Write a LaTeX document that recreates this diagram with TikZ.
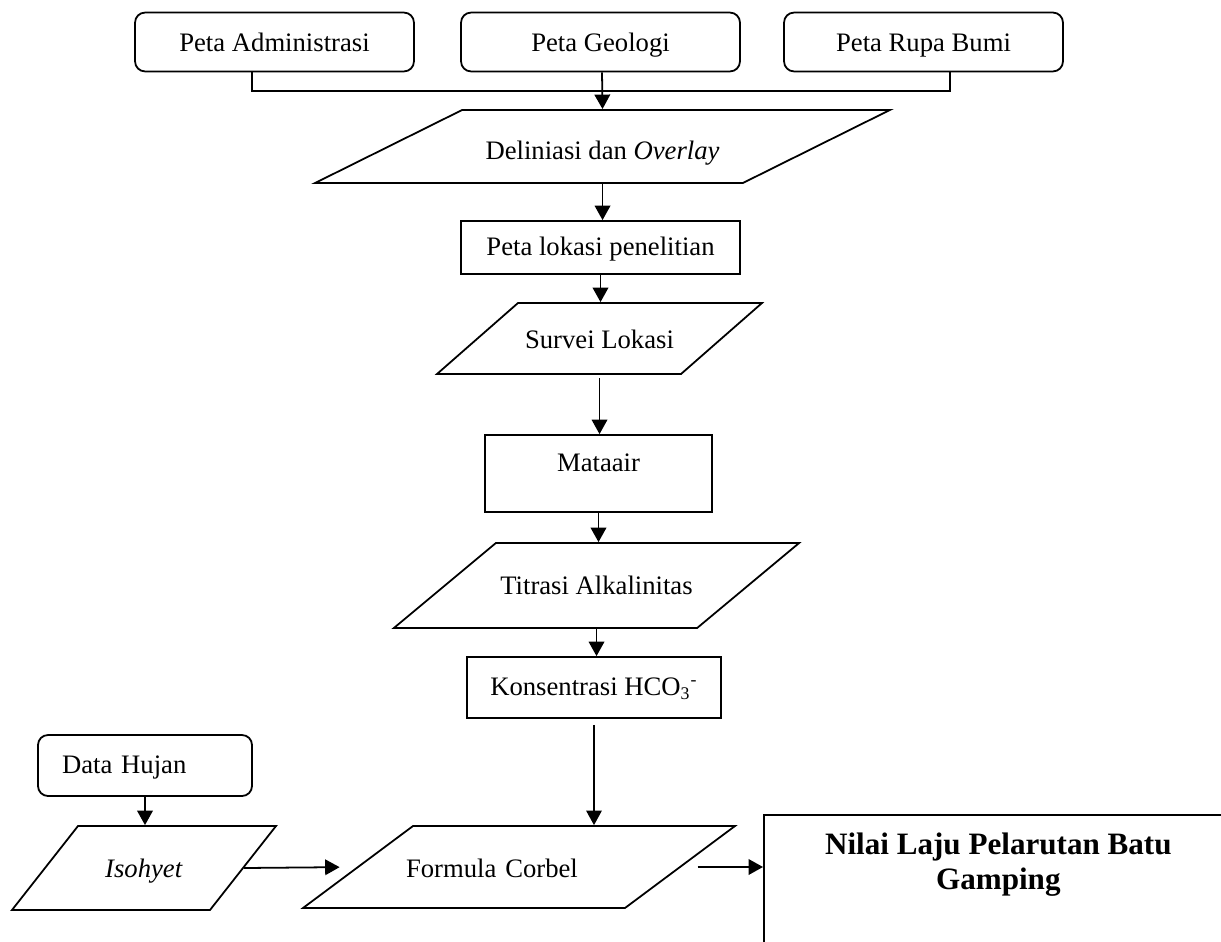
\documentclass[tikz,border=0pt]{standalone}
\usepackage{fontspec}
\setmainfont{Liberation Serif}
\usetikzlibrary{arrows.meta,shapes.geometric}

\begin{document}
\begin{tikzpicture}[
    x=0.45pt, y=-0.45pt,
    line width=0.8pt,
    font=\fontsize{12}{14}\selectfont,
    source/.style={
        draw,
        rounded corners=4.5pt,
        align=center,
        minimum width=125.5pt,
        minimum height=26.5pt,
        text height=10pt,
        text depth=1.4pt
    },
    proc/.style={
        draw,
        align=center,
        text height=9pt,
        text depth=2pt
    },
    io/.style={
        draw,
        trapezium,
        trapezium stretches body,
        align=center,
        inner xsep=2pt,
        inner ysep=0pt
    },
    result/.style={
        draw,
        align=center,
        anchor=north west,
        inner ysep=8pt,
        font=\fontsize{14}{15.8}\selectfont\bfseries
    },
    flow/.style={-{Triangle[length=6.5pt,width=7pt]}}
]

\useasboundingbox (0,0) rectangle (1221,942);

% map inputs
\node[source] (admin) at (274.5,42) {Peta Administrasi};
\node[source] (geo)   at (600.5,42) {Peta Geologi};
\node[source] (rupa)  at (923.5,42) {Peta Rupa Bumi};
\coordinate (merge) at (602,91);

% main chain
\node[io, trapezium left angle=26.41, trapezium right angle=153.59,
      minimum width=258.75pt, text height=22.2pt, text depth=10.7pt] (delin) at (602.5,146.5)
    {Deliniasi dan \textit{Overlay}};
\node[proc, minimum width=125.55pt, minimum height=23.85pt] (lokasi) at (600.5,247.5)
    {Peta lokasi penelitian};
\node[io, trapezium left angle=41.24, trapezium right angle=138.76,
      minimum width=146.25pt, text height=20.25pt, text depth=11.7pt] (survei) at (599.5,338.5)
    {Survei Lokasi};
\node[proc, minimum width=102.15pt, inner ysep=0pt,
      text height=16.2pt, text depth=18.45pt] (mata) at (598.5,473.5)
    {Mataair};
\node[io, trapezium left angle=39.81, trapezium right angle=140.19,
      minimum width=180.45pt, text height=22.95pt, text depth=15.3pt] (titrasi) at (596.5,585.5)
    {Titrasi Alkalinitas};
\node[proc, minimum width=114.3pt, minimum height=27.45pt] (konsen) at (594,687.5)
    {Konsentrasi HCO\textsubscript{3}\textsuperscript{-}};

% rainfall branch
\node[source, align=left, minimum width=96.3pt, minimum height=27.45pt,
      text height=9pt, text depth=2pt,
      text width=74.7pt, inner xsep=10.8pt] (hujan) at (145,765.5)
    {Data Hujan};
\node[io, trapezium left angle=51.84, trapezium right angle=128.16,
      minimum width=118.8pt, text height=22.95pt, text depth=14.85pt] (iso) at (144,868)
    {\textit{Isohyet}};
\node[io, align=left, text width=101.7pt, inner xsep=-10pt,
      trapezium left angle=36.70, trapezium right angle=143.30,
      minimum width=194.4pt, text height=22.95pt, text depth=13.95pt] (formula) at (519,867)
    {Formula Corbel};
\node[result, minimum width=211pt, text depth=70pt] (nilai) at (763,814)
    {Nilai Laju Pelarutan Batu\\Gamping};

\draw ([xshift=-10.1pt]admin.south) |- (merge) -| ([xshift=11.9pt]rupa.south);
\draw[flow] (merge |- geo.south) -- (delin.north);
\draw[flow] (delin.south) -- (delin.south |- lokasi.north);
\draw[flow] (lokasi.south) -- (lokasi.south |- survei.north);
\draw[flow, shorten <=1.4pt] (survei.south) -- (survei.south |- mata.north);
\draw[flow] (mata.south) -- (mata.south |- titrasi.north);
\draw[flow] (titrasi.south) -- (titrasi.south |- konsen.north);
\draw[flow, line width=0.5pt, shorten <=2.7pt] (konsen.south) -- (konsen.south |- formula.north);
\draw[flow] (hujan.south) -- (hujan.south |- iso.north);
\draw[flow, shorten >=7.6pt] (iso.east) -- (formula.west);
\draw[flow, shorten <=7.2pt] (formula.east) -- (formula.east -| nilai.west);

\end{tikzpicture}
\end{document}
